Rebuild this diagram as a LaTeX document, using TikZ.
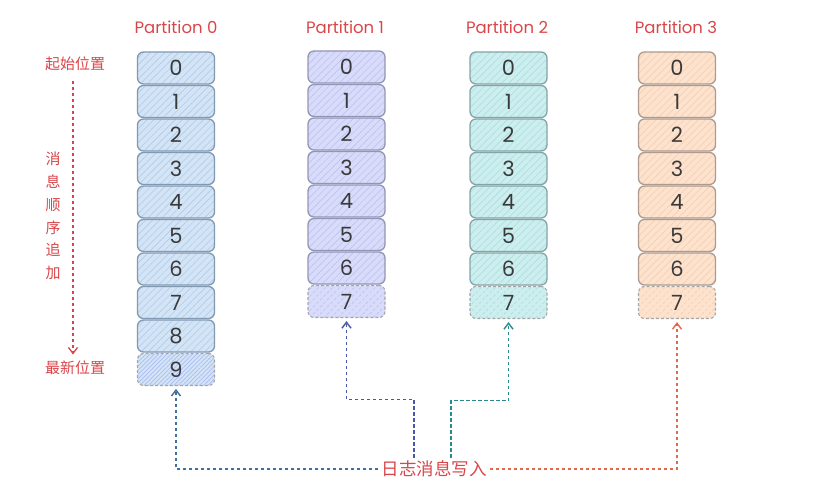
\documentclass[tikz,border=0pt]{standalone}
\usepackage{fontspec}
\setmainfont{Poppins}
\newfontfamily\cjk{Noto Sans CJK SC}
\usetikzlibrary{arrows.meta,patterns.meta,calc}
\definecolor{redtxt}{HTML}{D9464A}
\definecolor{numcol}{HTML}{3A3A3A}
\definecolor{czf}{HTML}{D2E4F6}\definecolor{czd}{HTML}{8299B2}\definecolor{czh}{HTML}{ADC8E4}
\definecolor{cof}{HTML}{D8DBFA}\definecolor{cod}{HTML}{9295B4}\definecolor{coh}{HTML}{B9BEEE}
\definecolor{ctf}{HTML}{CCEEEF}\definecolor{ctd}{HTML}{84A5A6}\definecolor{cth}{HTML}{A6DBDD}
\definecolor{chf}{HTML}{FDE2CD}\definecolor{chd}{HTML}{AE9A8E}\definecolor{chh}{HTML}{F3CCAE}
\definecolor{lz}{HTML}{3F6F9C}
\definecolor{lo}{HTML}{4A56A8}
\definecolor{lt}{HTML}{2A8A8C}
\definecolor{lh}{HTML}{E2684C}
\tikzset{
  cell/.style={draw, rounded corners=6pt, minimum width=77pt, minimum height=32pt,
    font=\fontsize{21}{21}\selectfont, text=numcol, line width=1.3pt, inner sep=0pt},
  lastcell/.style={dash pattern=on 3pt off 2pt, line width=1.1pt, draw=gray!70},
  colz/.style={cell, draw=czd, preaction={fill=czf}, pattern={Lines[angle=45,distance=5pt,line width=0.5pt]}, pattern color=czh},
  colo/.style={cell, draw=cod, preaction={fill=cof}, pattern={Lines[angle=45,distance=5pt,line width=0.5pt]}, pattern color=coh},
  colt/.style={cell, draw=ctd, preaction={fill=ctf}, pattern={Lines[angle=45,distance=5pt,line width=0.5pt]}, pattern color=cth},
  colh/.style={cell, draw=chd, preaction={fill=chf}, pattern={Lines[angle=45,distance=5pt,line width=0.5pt]}, pattern color=chh},
  title/.style={text=redtxt, font=\fontsize{16.5}{16.5}\selectfont},
  side/.style={text=redtxt, font=\cjk\fontsize{15}{15}\selectfont},
  link/.style={line width=1.4pt, dash pattern=on 3.5pt off 2.5pt, -{Straight Barb[length=6pt,width=9pt,line width=1.4pt]}, shorten >=3pt},
}
\begin{document}
\begin{tikzpicture}[x=1pt,y=-1pt]
\useasboundingbox (0,0) rectangle (813,500);
% titles
\node[title] (t0) at (176,27) {Partition 0};
\node[title] (t1) at (345,27) {Partition 1};
\node[title] (t2) at (507,27) {Partition 2};
\node[title] (t3) at (676,27) {Partition 3};
% column 0
\foreach \i in {0,...,8} \node[colz] (cz-\i) at (176,{68+33.5*\i}) {\i};
\node[colz,lastcell,pattern={Lines[angle=45,distance=3pt,line width=0.7pt]},pattern color=czh!80!blue!70] (cz-9) at (176,{68+33.5*9}) {9};
% column 1
\foreach \i in {0,...,6} \node[colo] (co-\i) at (346.5,{67+33.5*\i}) {\i};
\node[colo,lastcell] (co-7) at (346.5,{67+33.5*7}) {7};
% column 2
\foreach \i in {0,...,6} \node[colt] (ct-\i) at (508.5,{68+33.5*\i}) {\i};
\node[colt,lastcell] (ct-7) at (508.5,{68+33.5*7}) {7};
% column 3
\foreach \i in {0,...,6} \node[colh] (ch-\i) at (677,{68+33.5*\i}) {\i};
\node[colh,lastcell] (ch-7) at (677,{68+33.5*7}) {7};
% left side labels
\node[side] (start) at (75,64) {起始位置};
\node[side] (newest) at (75,368) {最新位置};
\node[side, align=center, font=\cjk\fontsize{15}{22.8}\selectfont] (order) at (53,216) {消\\息\\顺\\序\\追\\加};
\draw[redtxt, line width=1.3pt, dash pattern=on 3.5pt off 2.5pt, -{Straight Barb[length=6pt,width=9pt,line width=1.3pt]}]
  ([xshift=-2pt,yshift=-6pt]start.south) -- ([xshift=-2pt,yshift=3pt]newest.north);
% bottom label and links
\node[text=redtxt, font=\cjk\fontsize{17.5}{17.5}\selectfont, inner sep=3pt] (lbl) at (434,469) {日志消息写入};
\draw[link, lz] (lbl.west) -| (cz-9.south);
\draw[link, lo] ([xshift=-20pt]lbl.north) -- ++(0,-58) -| (co-7.south);
\draw[link, lt] ([xshift=17pt]lbl.north) -- ++(0,-57) -| (ct-7.south);
\draw[link, lh] (lbl.east) -| (ch-7.south);
\end{tikzpicture}
\end{document}
